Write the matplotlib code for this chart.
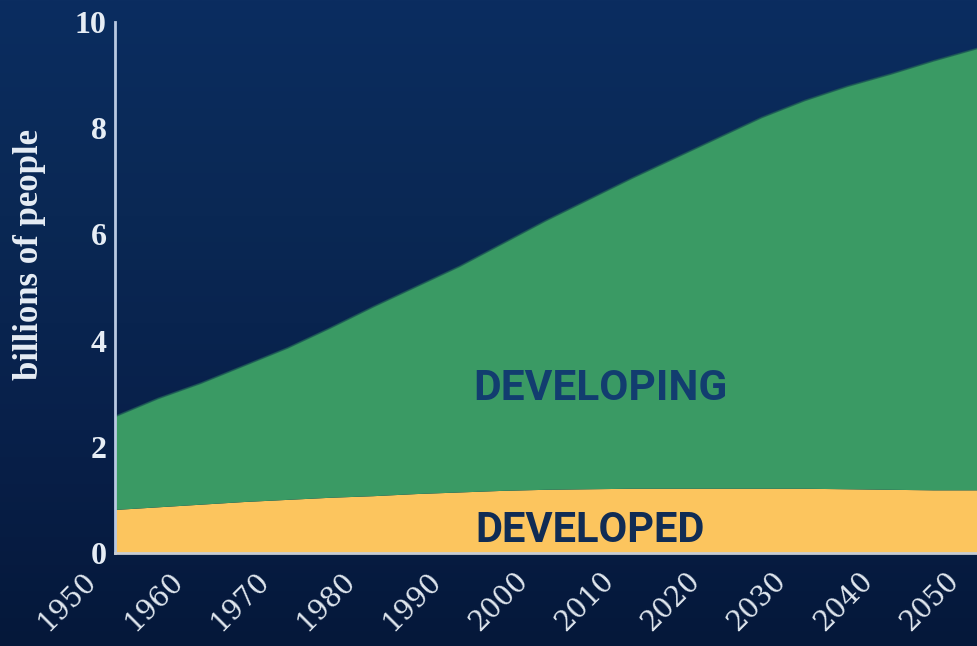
import numpy as np
import matplotlib
matplotlib.use('Agg')
import matplotlib.pyplot as plt
from matplotlib import font_manager
from matplotlib.colors import LinearSegmentedColormap

# データ（図から読み取った値, 単位: 10億人）
years = [1950, 1955, 1960, 1965, 1970, 1975, 1980, 1985, 1990, 1995, 2000,
         2005, 2010, 2015, 2020, 2025, 2030, 2035, 2040, 2045, 2050]
developed = [0.81, 0.86, 0.91, 0.96, 1.00, 1.04, 1.07, 1.11, 1.14, 1.17, 1.19,
             1.20, 1.21, 1.21, 1.21, 1.21, 1.21, 1.20, 1.19, 1.18, 1.18]
total = [2.57, 2.91, 3.20, 3.53, 3.86, 4.24, 4.64, 5.02, 5.40, 5.83, 6.26,
         6.66, 7.06, 7.44, 7.82, 8.20, 8.52, 8.79, 9.02, 9.27, 9.50]
developing = [t - d for t, d in zip(total, developed)]

x_ticks = list(range(1950, 2051, 10))
y_ticks = [0, 2, 4, 6, 8, 10]

# 利用可能なフォントを確認
installed = {f.name for f in font_manager.fontManager.ttflist}
label_font = 'Liberation Sans Narrow' if 'Liberation Sans Narrow' in installed else 'Roboto'
serif_font = 'Liberation Serif'

fig = plt.figure(figsize=(9.77, 6.46), dpi=100)

# 背景グラデーション
bg = fig.add_axes([0, 0, 1, 1], zorder=0)
cmap = LinearSegmentedColormap.from_list('bg', ['#0b2d60', '#0a2854', '#08204a', '#05183a'])
grad = np.linspace(0, 1, 256).reshape(-1, 1)
bg.imshow(grad, aspect='auto', cmap=cmap, extent=[0, 1, 0, 1], origin='upper')
bg.set_axis_off()

ax = fig.add_axes([115 / 977, (646 - 553) / 646, (977 - 115) / 977, (553 - 22) / 646], zorder=1)
ax.patch.set_alpha(0)

ax.stackplot(years, developed, developing, colors=['#fcc55e', '#3a9a64'], linewidth=0)
ax.plot(years, total, color='#1d5a55', linewidth=1.2, alpha=0.8)

ax.set_xlim(1950, 2050)
ax.set_ylim(0, 10)

for s in ['top', 'right']:
    ax.spines[s].set_visible(False)
ax.spines['left'].set_color('#b9c9e2')
ax.spines['left'].set_linewidth(2)
ax.spines['bottom'].set_color('#c9cdd2')
ax.spines['bottom'].set_linewidth(2)

ax.set_yticks(y_ticks)
ax.set_yticklabels([str(v) for v in y_ticks], fontfamily=serif_font, fontweight='bold',
                   fontsize=23, color='#e6edf5')
ax.tick_params(axis='both', length=0)
ax.tick_params(axis='y', pad=6)

# x軸ラベル（斜め, 目盛りから左下にずらす）
ax.set_xticks(x_ticks)
ax.set_xticklabels([])
for yr in x_ticks:
    ax.annotate(str(yr), xy=(yr, 0), xycoords=('data', 'axes fraction'),
                xytext=(-23, -10), textcoords='offset points',
                fontfamily='DejaVu Serif', fontsize=20, color='#dfe6ee',
                rotation=45, ha='right', va='top', rotation_mode='anchor',
                annotation_clip=False)

fig.text(30 / 977, 1 - 255 / 646, 'billions of people', rotation=90, ha='center', va='center',
         fontfamily=serif_font, fontweight='bold', fontsize=25, color='#e6edf5')

ax.text(2006.3, 3.1, 'DEVELOPING', ha='center', va='center', fontfamily=label_font,
        fontweight='bold', fontsize=30.5, color='#123d6f')
ax.text(2005.1, 0.43, 'DEVELOPED', ha='center', va='center', fontfamily=label_font,
        fontweight='bold', fontsize=30, color='#102c54')

fig.savefig('out.png', dpi=100)
